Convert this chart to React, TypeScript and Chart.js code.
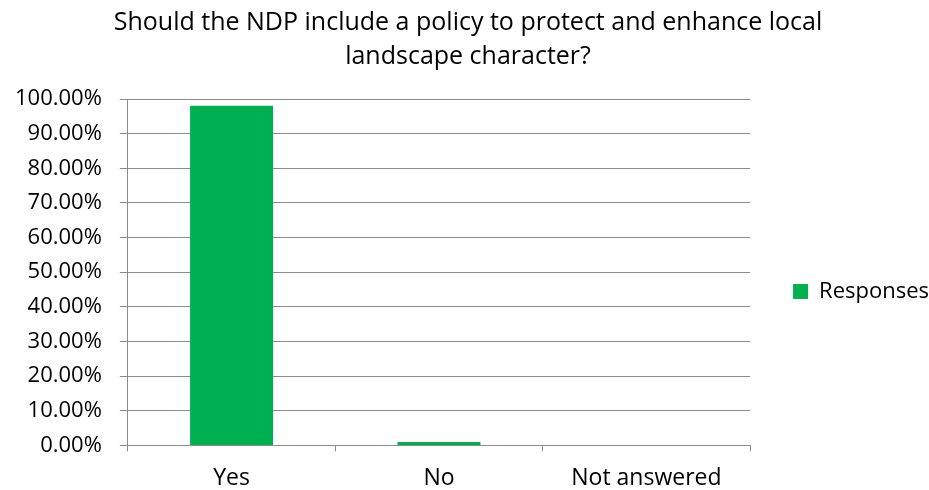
import React, { useEffect, useRef } from "react";
import { Chart, registerables } from "chart.js";

Chart.register(...registerables);

const titleLines = [
  "Should the NDP include a policy to protect and enhance local",
  "landscape character?",
];
const categories = ["Yes", "No", "Not answered"];
const seriesName = "Responses";
const responses = [0.9804, 0.0096, 0];
const yTicks = [0, 0.1, 0.2, 0.3, 0.4, 0.5, 0.6, 0.7, 0.8, 0.9, 1.0];

const FONT = "'Open Sans', 'DejaVu Sans', sans-serif";
const GRID = "#8c8c8c";

export default function App() {
  const ref = useRef<HTMLCanvasElement | null>(null);
  useEffect(() => {
    if (!ref.current) return;
    const chart = new Chart(ref.current, {
      type: "bar",
      data: {
        labels: categories,
        datasets: [
          {
            label: seriesName,
            data: responses,
            backgroundColor: "#00b050",
            borderWidth: 0,
            barPercentage: 0.4,
            categoryPercentage: 1,
          },
        ],
      },
      options: {
        animation: false,
        responsive: true,
        maintainAspectRatio: false,
        layout: { padding: { top: 6, left: -3, right: -10, bottom: -15 } },
        plugins: {
          title: {
            display: true,
            text: titleLines,
            color: "#000",
            font: { family: FONT, size: 25, weight: "normal", lineHeight: 1.36 },
            padding: { top: 0, bottom: 25 },
          },
          legend: {
            position: "right",
            title: {
              display: true,
              text: " ",
              font: { family: FONT, size: 10 },
              padding: { top: 60, bottom: 0 },
            },
            labels: {
              color: "#000",
              font: { family: FONT, size: 22 },
              boxWidth: 15,
              boxHeight: 15,
              padding: 43,
            },
          },
          tooltip: { enabled: false },
        },
        scales: {
          x: {
            grid: {
              offset: true,
              drawOnChartArea: false,
              drawTicks: true,
              tickLength: 6,
              color: GRID,
            },
            border: { display: true, color: GRID, width: 1 },
            ticks: {
              color: "#000",
              font: { family: FONT, size: 23 },
              padding: 13,
            },
          },
          y: {
            min: 0,
            max: 1,
            afterBuildTicks: (axis: any) => {
              axis.ticks = yTicks.map((v) => ({ value: v }));
            },
            grid: {
              color: GRID,
              drawTicks: true,
              tickLength: 8,
            },
            border: { display: true, color: GRID, width: 1 },
            ticks: {
              color: "#000",
              font: { family: FONT, size: 22 },
              padding: 18,
              callback: (v: any) => (Number(v) * 100).toFixed(2) + "%",
            },
          },
        },
      },
    });
    return () => chart.destroy();
  }, []);
  return (
    <div style={{ position: "absolute", left: 0, top: 0, width: 929, height: 490 }}>
      <canvas ref={ref} />
    </div>
  );
}
